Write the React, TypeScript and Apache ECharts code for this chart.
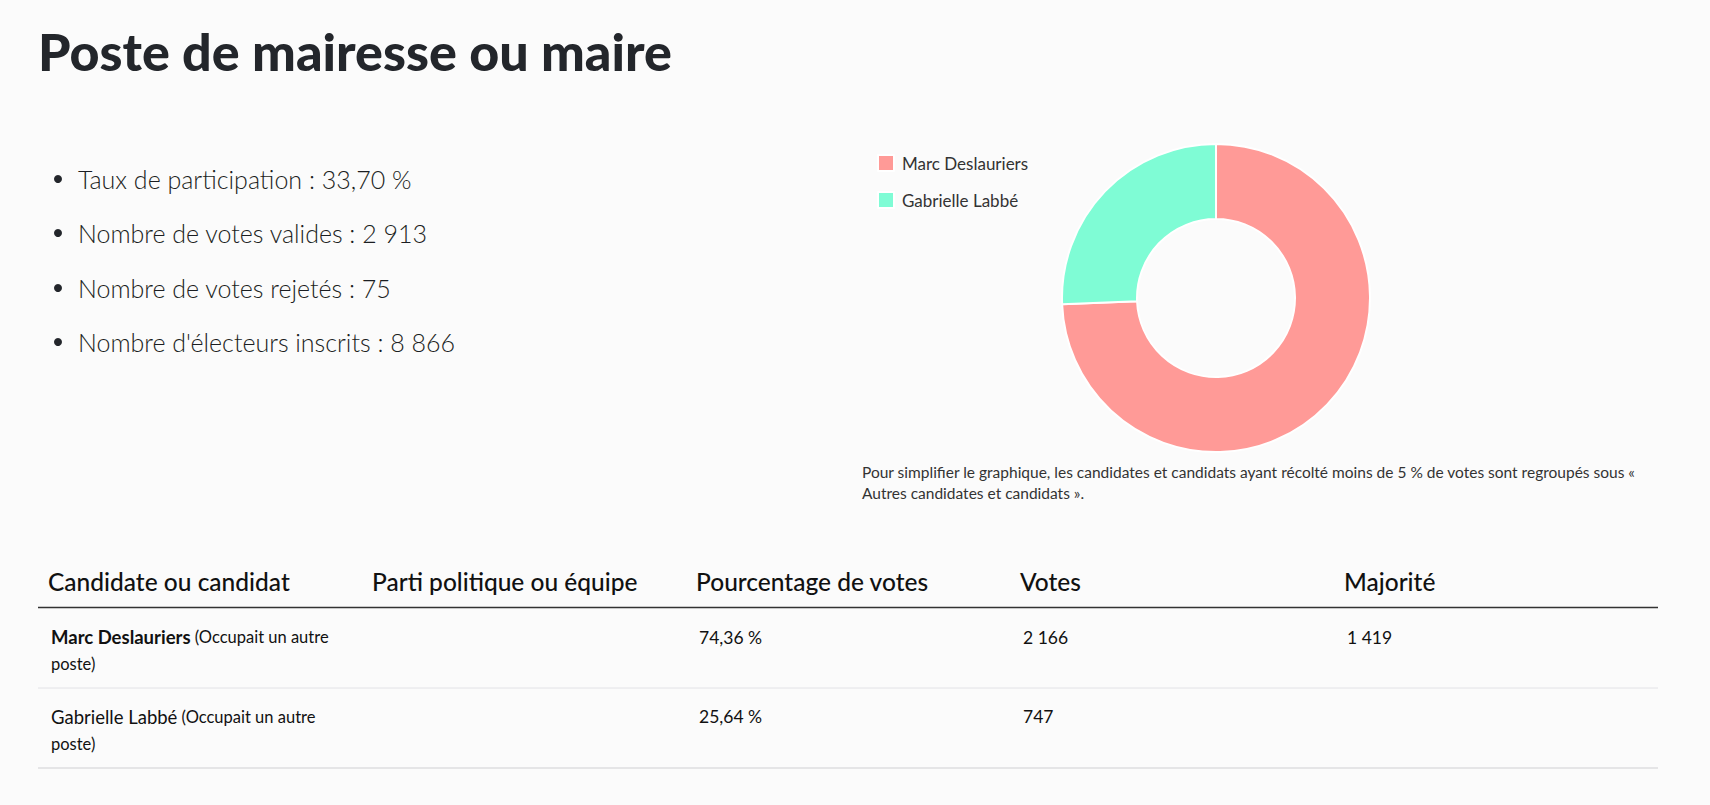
import React, { useEffect, useRef } from "react";
import * as echarts from "echarts";

const pageTitle = "Poste de mairesse ou maire";
const statLabels = [
  "Taux de participation",
  "Nombre de votes valides",
  "Nombre de votes rejetés",
  "Nombre d'électeurs inscrits",
];
const statValues = ["33,70 %", "2 913", "75", "8 866"];

const candidates = ["Marc Deslauriers", "Gabrielle Labbé"];
const candidateNotes = ["(Occupait un autre", "(Occupait un autre"];
const candidateNotes2 = ["poste)", "poste)"];
const parties = ["", ""];
const percentages = ["74,36 %", "25,64 %"];
const votes = [2166, 747];
const majorities = ["1 419", ""];
const sliceColors = ["#ff9a97", "#7ffcd5"];

const tableHeaders = [
  "Candidate ou candidat",
  "Parti politique ou équipe",
  "Pourcentage de votes",
  "Votes",
  "Majorité",
];
const footnote1 =
  "Pour simplifier le graphique, les candidates et candidats ayant récolté moins de 5 % de votes sont regroupés sous «";
const footnote2 = "Autres candidates et candidats ».";

const fmt = (n: number) =>
  String(n).replace(/\B(?=(\d{3})+(?!\d))/g, " ");

export default function App() {
  const ref = useRef<HTMLDivElement>(null);
  useEffect(() => {
    if (!ref.current) return;
    const chart = echarts.init(ref.current, null, { renderer: "svg" });
    const font = "Lato, 'Noto Sans', sans-serif";
    const colX = [48, 372, 696, 1020, 1344];
    const graphic: any[] = [];

    graphic.push({
      type: "text",
      left: 38,
      top: 25,
      style: {
        text: pageTitle,
        fontFamily: font,
        fontWeight: 900,
        fontSize: 52,
        fill: "#23262b",
      },
    });

    const bulletY = [179, 233, 288, 342];
    statLabels.forEach((l, i) => {
      graphic.push({
        type: "circle",
        shape: { cx: 58, cy: bulletY[i], r: 4 },
        style: { fill: "#23262b" },
      });
      graphic.push({
        type: "text",
        x: 78,
        y: bulletY[i],
        style: {
          text: `${l} : ${statValues[i]}`,
          fontFamily: font,
          fontWeight: 300,
          fontSize: 25,
          fill: "#1b1e22",
          verticalAlign: "middle",
        },
      });
    });

    graphic.push({
      type: "text",
      x: 862,
      y: 461.5,
      style: {
        text: footnote1 + "\n" + footnote2,
        fontFamily: font,
        fontSize: 15.5,
        lineHeight: 21,
        fill: "#333",
        verticalAlign: "top",
      },
    });

    tableHeaders.forEach((h, i) => {
      graphic.push({
        type: "text",
        x: colX[i],
        y: 581,
        style: {
          text: h,
          fontFamily: font,
          fontWeight: 500,
          fontSize: 24.5,
          fill: "#111",
          verticalAlign: "middle",
        },
      });
    });
    graphic.push({
      type: "line",
      shape: { x1: 38, y1: 607.5, x2: 1658, y2: 607.5 },
      style: { stroke: "#333", lineWidth: 1.5 },
    });

    const rowY = [637, 716.5];
    const sepY = [688, 768];
    candidates.forEach((c, i) => {
      graphic.push({
        type: "text",
        x: 51,
        y: rowY[i] - 13.5,
        style: {
          text: `{b|${c}}{s| ${candidateNotes[i]}}\n{s|${candidateNotes2[i]}}`,
          fontFamily: font,
          fill: "#111",
          rich: {
            b: {
              fontFamily: font,
              fontSize: 18.5,
              fontWeight: i === 0 ? 700 : 400,
              lineHeight: 27,
              fill: "#111",
            },
            s: { fontFamily: font, fontSize: 16.5, lineHeight: 27, fill: "#111" },
          },
        },
      });
      const vals = [parties[i], percentages[i], fmt(votes[i]), majorities[i]];
      vals.forEach((v, j) => {
        if (!v) return;
        graphic.push({
          type: "text",
          x: colX[j + 1] + 3,
          y: rowY[i],
          style: {
            text: v,
            fontFamily: font,
            fontSize: 17.5,
            fill: "#111",
            verticalAlign: "middle",
          },
        });
      });
      graphic.push({
        type: "line",
        shape: { x1: 38, y1: sepY[i], x2: 1658, y2: sepY[i] },
        style: { stroke: i === 0 ? "#e2e2e6" : "#cfcfd2", lineWidth: 1 },
      });
    });

    chart.setOption({
      animation: false,
      backgroundColor: "#fbfbfb",
      legend: {
        orient: "vertical",
        left: 877,
        top: 154,
        padding: 0,
        itemWidth: 16,
        itemHeight: 16,
        itemGap: 19,
        icon: "rect",
        selectedMode: false,
        textStyle: {
          fontFamily: font,
          fontSize: 17,
          lineHeight: 16,
          color: "#333",
          padding: [0, 0, 0, 3],
        },
        data: candidates,
      },
      series: [
        {
          type: "pie",
          center: [1216, 298],
          radius: [79, 154],
          startAngle: 90,
          clockwise: true,
          silent: true,
          label: { show: false },
          labelLine: { show: false },
          itemStyle: { borderColor: "#ffffff", borderWidth: 2 },
          emphasis: { disabled: true },
          data: candidates.map((c, i) => ({
            name: c,
            value: votes[i],
            itemStyle: { color: sliceColors[i] },
          })),
        },
      ],
      graphic,
    });
    return () => chart.dispose();
  }, []);
  return (
    <div
      ref={ref}
      style={{ position: "absolute", left: 0, top: 0, width: 1710, height: 805 }}
    />
  );
}
